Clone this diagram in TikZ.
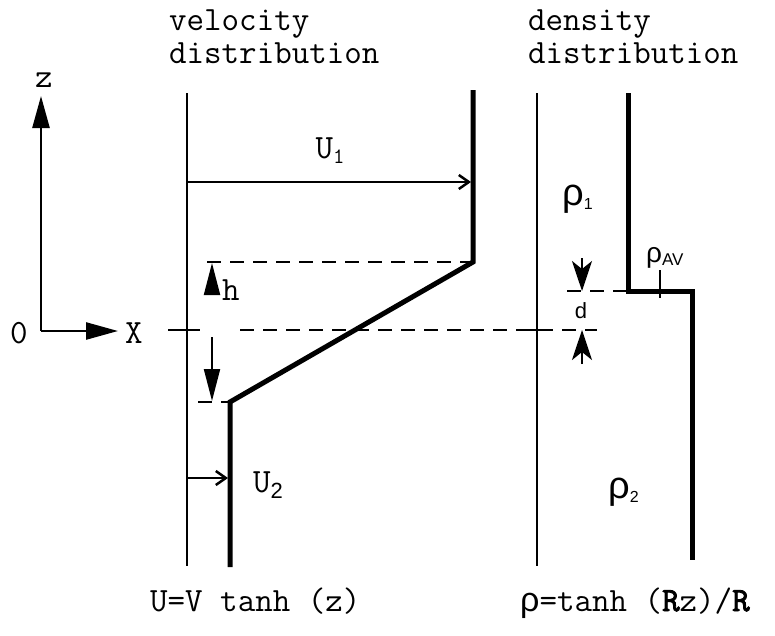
\documentclass[tikz,border=0pt]{standalone}
\usepackage{fontspec}
\setmainfont{Liberation Sans}
\newfontfamily\boldmono{Latin Modern Mono}[FakeBold=2.5]
\usetikzlibrary{arrows.meta}
\newcommand\vmono{\ttfamily\fontsize{34}{30}\selectfont}
\newcommand\titlefont{\ttfamily\fontsize{34}{33}\selectfont}
\newcommand\rhofont{\rmfamily\fontsize{38}{38}\selectfont}
\begin{document}
\begin{tikzpicture}[x=1pt,y=-1pt,
  thinline/.style={line width=2pt},
  thickline/.style={line width=5pt, line join=miter},
  dashline/.style={line width=2pt, dash pattern=on 14pt off 9pt},
  bigarrow/.style={line width=2.5pt, -{Triangle[length=32pt,width=17pt]}},
  harrow/.style={line width=2pt, -{Triangle[length=32pt,width=16pt]}},
  darrow/.style={line width=2pt, -{Stealth[length=30pt,width=20pt,inset=8pt]}},
  uarrow/.style={line width=2.5pt, -{Straight Barb[length=10pt,width=14pt,line width=2.5pt]}},
  lbl/.style={inner sep=0pt, font=\vmono},
  ttl/.style={inner sep=0pt, font=\titlefont, align=left, anchor=base west},
  rholbl/.style={inner sep=0pt, font=\rhofont}
]
\useasboundingbox (0,0) rectangle (775,635);

% coordinates
\coordinate (zt) at (41,96);
\coordinate (o) at (41,331);
\coordinate (xt) at (118,331);
\coordinate (vlt) at (187,93);
\coordinate (vlb) at (187,566);
\coordinate (vp1) at (473,90);
\coordinate (vp2) at (473,262);
\coordinate (vp3) at (230,402);
\coordinate (vp4) at (230,567);
\coordinate (u1s) at (187,182);
\coordinate (u1e) at (471,182);
\coordinate (u2s) at (187,478);
\coordinate (u2e) at (228,478);
\coordinate (du1) at (207,262);
\coordinate (dl1) at (198,402);
\coordinate (ax1) at (168,330);
\coordinate (ax2) at (200,330);
\coordinate (ax3) at (240,330);
\coordinate (ax4) at (597,330);
\coordinate (ha1) at (212,294);
\coordinate (ha2) at (212,263);
\coordinate (hb1) at (212,337);
\coordinate (hb2) at (212,401);
\coordinate (dlt) at (537,93);
\coordinate (dlb) at (537,566);
\coordinate (dt1) at (527,330);
\coordinate (dt2) at (547,330);
\coordinate (dp1) at (628,93);
\coordinate (dp2) at (628,291);
\coordinate (dp3) at (692,291);
\coordinate (dp4) at (692,560);
\coordinate (dd1) at (567,291);
\coordinate (tk1) at (660,270);
\coordinate (tk2) at (660,298);
\coordinate (da1) at (582,258);
\coordinate (da2) at (582,291);
\coordinate (db1) at (582,364);
\coordinate (db2) at (582,330);

% axes
\draw[bigarrow] (o) -- (zt);
\draw[bigarrow] (o) -- (xt);
\node[lbl] (zl) at (44,80) {z};
\node[lbl] (ol) at (19,333) {0};
\node[lbl] (xl) at (134,333) {X};

% velocity
\draw[thinline] (vlt) -- (vlb);
\draw[thickline] (vp1) -- (vp2) -- (vp3) -- (vp4);
\draw[uarrow] (u1s) -- (u1e);
\draw[uarrow] (u2s) -- (u2e);
\draw[dashline] (du1) -- (vp2);
\draw[dashline] (dl1) -- (vp3);
\draw[thinline] (ax1) -- (ax2);
\draw[dashline] (ax3) -- (ax4);
\draw[harrow] (ha1) -- (ha2);
\draw[harrow] (hb1) -- (hb2);
\node[lbl] (hl) at (231,290) {h};
\node[lbl, anchor=base] (u1l) at (330,158) {U\raisebox{-5pt}{\fontsize{22}{22}\selectfont 1}};
\node[lbl, anchor=base] (u2l) at (268,492) {U\raisebox{-6pt}{\rmfamily\fontsize{22}{22}\selectfont 2}};

% density
\draw[thinline] (dlt) -- (dlb);
\draw[thinline] (dt1) -- (dt2);
\draw[thickline] (dp1) -- (dp2) -- (dp3) -- (dp4);
\draw[dashline] (dd1) -- (dp2);
\draw[thinline] (tk1) -- (tk2);
\draw[darrow] (da1) -- (da2);
\draw[darrow] (db1) -- (db2);
\node[inner sep=0pt, font=\rmfamily\fontsize{22}{22}\selectfont] (dl) at (581,311) {d};
\node[rholbl, anchor=base west] (r1) at (562,205) {ρ\raisebox{-4pt}{\fontsize{16}{16}\selectfont 1}};
\node[rholbl, anchor=base west] (r2) at (608,498) {ρ\raisebox{-4pt}{\fontsize{16}{16}\selectfont 2}};
\node[inner sep=0pt, anchor=base west, font=\rmfamily\fontsize{28}{28}\selectfont] (rav) at (646,262) {ρ\raisebox{-3pt}{\fontsize{17}{17}\selectfont AV}};

% titles
\node[ttl] (t1) at (169,63) {velocity\\distribution};
\node[ttl] (t3) at (528,63) {density\\distribution};

% formulas
\node[lbl, anchor=base west] (f1) at (150,611) {U=V tanh (z)};
\node[lbl, anchor=base west] (f2) at (520,611) {{\rmfamily ρ}=tanh ({\boldmono R}z)/{\boldmono R}};
\end{tikzpicture}
\end{document}
